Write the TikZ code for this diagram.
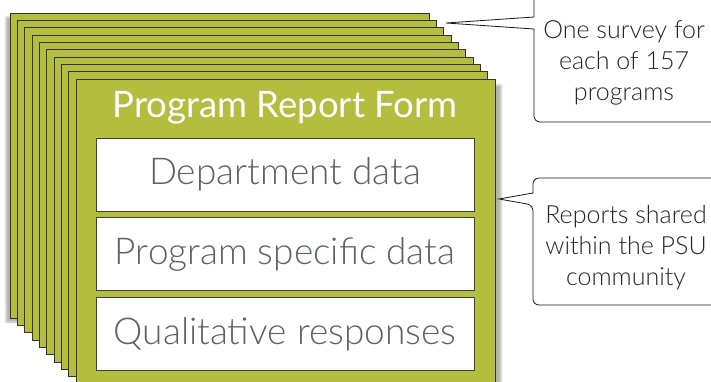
\documentclass[tikz,border=0pt]{standalone}
\usepackage{fontspec}
\setmainfont{Lato}
\newfontfamily\lightfont{Lato Light}
\usetikzlibrary{positioning,shadows.blur}
\definecolor{cardgreen}{RGB}{180,189,61}
\definecolor{textgray}{RGB}{94,97,104}
\tikzset{
  card/.style={fill=cardgreen, draw=black!80, line width=0.8pt},
  field/.style={draw=black!75, fill=white, line width=0.8pt, minimum width=378pt, minimum height=73pt, inner sep=0pt, font=\lightfont\fontsize{37}{37}\selectfont, text=textgray},
  bubble/.style={draw=black!90, fill=white, line width=0.8pt},
  note/.style={align=center, font=\lightfont\fontsize{25}{31}\selectfont, text=black!85}
}

\begin{document}
\begin{tikzpicture}[x=1pt, y=-1pt]
  \useasboundingbox (0,0) rectangle (711,381);
  %%%%% START %%%%%

  % stack of forms
  \draw[card, blur shadow={shadow xshift=-4pt, shadow yshift=-4pt, shadow opacity=30}] (10, 13) rectangle (429, 318);
  \foreach \i in {1,...,8}
    \draw[card] (10+7.33*\i, 13+7.33*\i) rectangle (429+7.33*\i, 318+7.33*\i);
  \draw[card, blur shadow={shadow xshift=6pt, shadow yshift=-6pt, shadow opacity=30}] (76, 79) rectangle (495, 384);

  % front form
  \node[font=\fontsize{36.5}{36.5}\selectfont, text=white] (title) at (285,108) {Program Report Form};
  \node[field] (dept) at (285,174.5) {Department data};
  \node[field, below=6pt of dept] (spec) {Program specific data};
  \node[field, below=6pt of spec] (qual) {Qualitative responses};

  % callouts
  \coordinate (surveytip) at (446,23);
  \draw[bubble] (534,-10) -- (534,17) -- (surveytip) -- (534,29) [rounded corners=6pt] -- (534,122) -- (725,122) -- (725,-10) -- cycle;
  \node[note] (survey) at (624,63) {One survey for\\each of 157\\programs};

  \coordinate (sharedtip) at (499,199);
  \draw[bubble] (725,305) [rounded corners=6pt] -- (533,305) -- (533,205) [sharp corners] -- (sharedtip) -- (533,193) [rounded corners=6pt] -- (533,178) -- (725,178) -- cycle;
  \node[note] (shared) at (626,248) {Reports shared\\within the PSU\\community};

  %%%%% END %%%%%
\end{tikzpicture}
\end{document}
